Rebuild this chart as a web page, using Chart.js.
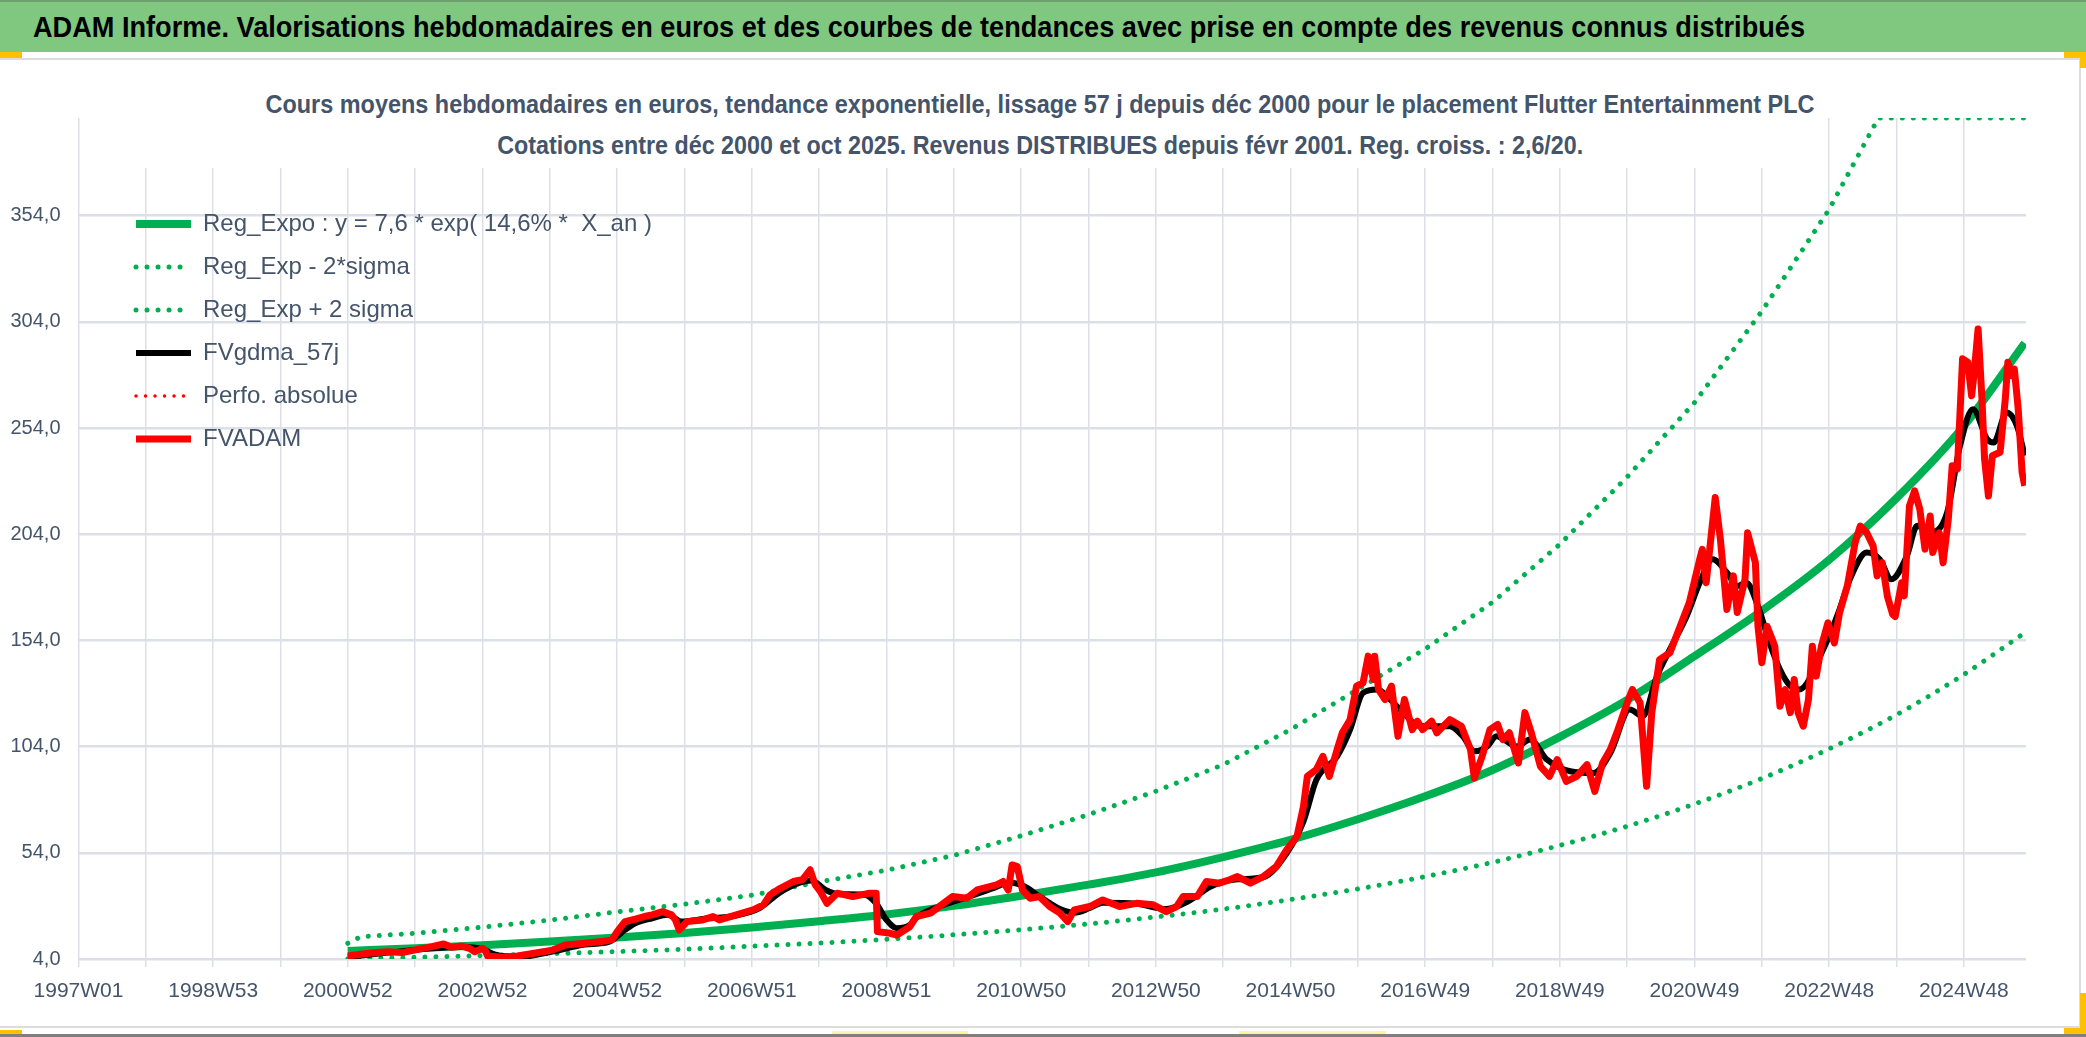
<!DOCTYPE html>
<html>
<head>
<meta charset="utf-8">
<script src="https://cdn.jsdelivr.net/npm/chart.js@4.4.1/dist/chart.umd.min.js"></script>
<style>
  html, body { margin: 0; padding: 0; background: #fff; overflow: hidden; }
  body { width: 2086px; height: 1037px; position: relative; font-family: 'Liberation Sans', Arial, sans-serif; }
  #topbar { position: absolute; left: 0; top: 0; width: 2086px; height: 52px; background: #80c880; border-top: 2px solid #6f9f6f; box-sizing: border-box; }
  #title { position: absolute; left: 33px; top: 8px; font-weight: bold; font-size: 30px; color: #000; white-space: nowrap; transform-origin: 0 0; }
  #frame { position: absolute; left: -2px; top: 58px; width: 2083px; height: 970px; border: 2px solid #dcdcdc; box-sizing: border-box; }
  #chart { position: absolute; left: 0; top: 0; }
  #subbox { position: absolute; left: 100px; top: 80px; width: 1716px; height: 88px; background: #fff; }
  .sub { position: absolute; left: 0; width: 2080px; text-align: center; color: #44546a; font-weight: bold; font-size: 26px; line-height: 30px; white-space: nowrap; }
  .sub span { display: inline-block; transform-origin: 50% 50%; }
  .mark { position: absolute; background: #ffc000; }
  .pale { position: absolute; background: #fff3a6; }
  #bottomline { position: absolute; left: 0; top: 1034px; width: 2086px; height: 3px; background: #7f7f7f; }
</style>
</head>
<body>
<div id="topbar"><span id="title" data-w="1772">ADAM Informe. Valorisations hebdomadaires en euros et des courbes de tendances avec prise en compte des revenus connus distribués</span></div>
<div id="frame"></div>
<canvas id="chart" width="2086" height="1037"></canvas>
<div id="subbox"></div>
<div class="sub" style="top:89px"><span data-w="1549">Cours moyens hebdomadaires en euros, tendance exponentielle, lissage 57 j depuis déc 2000 pour le placement Flutter Entertainment PLC</span></div>
<div class="sub" style="top:130px"><span data-w="1086">Cotations entre déc 2000 et oct 2025. Revenus DISTRIBUES depuis févr 2001. Reg. croiss. : 2,6/20.</span></div>
<div class="mark" style="left:0;top:52px;width:22px;height:6px"></div>
<div class="mark" style="left:2064px;top:52px;width:22px;height:6px"></div>
<div class="mark" style="left:2080px;top:52px;width:6px;height:16px"></div>
<div class="mark" style="left:0;top:1030px;width:22px;height:5px"></div>
<div class="mark" style="left:2080px;top:993px;width:6px;height:41px"></div>
<div class="mark" style="left:2064px;top:1028px;width:22px;height:6px"></div>
<div class="pale" style="left:832px;top:1031px;width:136px;height:3px"></div>
<div class="pale" style="left:1239px;top:1031px;width:147px;height:3px"></div>
<div id="bottomline"></div>
<script>
// axis labels
const xLabels = ['1997W01', '1998W53', '2000W52', '2002W52', '2004W52', '2006W51', '2008W51', '2010W50',
  '2012W50', '2014W50', '2016W49', '2018W49', '2020W49', '2022W48', '2024W48'];
const yTicks = [4, 54, 104, 154, 204, 254, 304, 354];
const weeksPerGrid = 52;   // one vertical grid line per 52 weekly categories
const lastWeek = 1504;     // about 2025W43, counted from 1997W01

// FVADAM (weekly index counted from 1997W01)
const redWeeks = [208, 224, 239, 250, 262, 273, 282, 288, 296, 302, 306, 312, 314, 316, 327, 339, 352, 366, 376, 391,
  404, 412, 416, 422, 430, 437, 443, 451, 458, 461, 464, 470, 482, 490, 495, 508, 521, 529, 534, 542,
  552, 559, 565, 569, 573, 578, 586, 598, 611, 616, 617, 627, 632, 642, 647, 658, 668, 675, 686, 694,
  709, 714, 718, 721, 725, 729, 735, 742, 750, 758, 764, 769, 781, 791, 804, 817, 830, 840, 848, 853,
  864, 871, 881, 889, 895, 905, 915, 925, 933, 941, 946, 949, 956, 961, 966, 972, 976, 982, 987, 992,
  996, 1000, 1001, 1004, 1009, 1014, 1019, 1024, 1030, 1034, 1038, 1045, 1049, 1059, 1068, 1075, 1078, 1084, 1090, 1096,
  1100, 1105, 1112, 1117, 1122, 1129, 1136, 1142, 1149, 1157, 1165, 1171, 1177, 1183, 1188, 1196, 1200, 1206, 1211, 1215,
  1221, 1229, 1237, 1244, 1252, 1254, 1257, 1264, 1268, 1273, 1278, 1281, 1287, 1289, 1295, 1297, 1300, 1304, 1308, 1310,
  1314, 1318, 1322, 1325, 1328, 1332, 1336, 1339, 1342, 1346, 1351, 1356, 1360, 1366, 1372, 1376, 1381, 1386, 1389, 1393,
  1397, 1401, 1403, 1408, 1410, 1414, 1418, 1422, 1426, 1430, 1432, 1437, 1440, 1444, 1447, 1451, 1455, 1459, 1462, 1464,
  1467, 1470, 1472, 1475, 1478, 1484, 1488, 1490, 1493, 1495, 1498, 1501, 1503];
const redValues = [5.4, 6.7, 7.4, 7.0, 8.5, 9.8, 11.1, 9.5, 10.1, 9.0, 7.4, 9.0, 8.2, 5.4, 4.8, 5.4, 6.7, 8.2, 10.6, 11.4,
  12.2, 13.0, 16.9, 21.6, 22.8, 24.0, 24.8, 26.3, 24.8, 22.4, 17.7, 21.6, 22.4, 24.0, 22.4, 24.8, 27.1, 29.5, 34.2, 37.3,
  40.5, 41.3, 46.0, 38.9, 35.7, 30.2, 35.0, 33.4, 35.0, 35.0, 16.9, 16.1, 15.3, 19.2, 24.0, 25.6, 30.2, 33.4, 32.6, 36.5,
  38.9, 40.5, 36.5, 48.3, 47.5, 36.5, 32.6, 33.4, 28.7, 25.6, 21.6, 27.1, 28.7, 31.8, 28.7, 30.2, 29.5, 26.3, 28.7, 33.4,
  33.4, 40.5, 39.7, 41.3, 42.8, 39.7, 42.8, 47.5, 55.4, 61.7, 75.8, 90.0, 93.2, 99.4, 90.0, 102.6, 110.5, 116.7, 132.5, 134.0,
  146.6, 135.6, 146.6, 130.9, 126.2, 132.5, 108.9, 126.2, 112.0, 116.0, 112.0, 116.0, 110.5, 116.7, 113.6, 102.6, 89.2, 99.4, 112.0, 114.4,
  107.3, 110.5, 96.3, 120.0, 110.5, 94.7, 90.0, 97.9, 87.6, 90.0, 95.5, 82.9, 96.3, 102.6, 110.5, 124.6, 130.9, 124.6, 85.3, 120.0,
  145.0, 148.2, 160.8, 171.8, 192.2, 196.9, 181.2, 221.3, 201.6, 168.6, 184.4, 167.2, 182.8, 204.7, 190.6, 160.7, 143.5, 160.7, 154.5, 151.3,
  123.0, 130.9, 120.0, 135.6, 120.0, 113.6, 126.2, 151.3, 137.2, 151.3, 162.3, 152.8, 167.0, 179.6, 200.0, 207.9, 204.7, 198.4, 184.4, 190.6,
  174.7, 166.3, 165.3, 181.2, 175.0, 217.4, 224.4, 215.8, 197.0, 212.6, 195.4, 204.7, 190.6, 211.1, 236.3, 234.7, 286.6, 285.0, 269.2, 280.2,
  300.7, 267.6, 239.4, 222.0, 241.0, 242.6, 267.6, 285.0, 278.7, 281.8, 262.9, 233.1, 226.8];

// FVgdma_57j (smoothed)
const blackWeeks = [208, 239, 273, 296, 312, 322, 341, 366, 391, 410, 422, 430, 443, 455, 466, 482, 508, 526, 542, 557,
  566, 577, 588, 607, 616, 624, 632, 642, 647, 668, 686, 709, 719, 731, 742, 758, 769, 781, 791, 817,
  840, 858, 874, 895, 915, 933, 946, 956, 972, 982, 992, 1003, 1013, 1023, 1036, 1059, 1069, 1078, 1088, 1095,
  1111, 1121, 1134, 1152, 1170, 1183, 1198, 1208, 1219, 1229, 1242, 1252, 1262, 1273, 1281, 1288, 1297, 1306, 1314, 1322,
  1329, 1335, 1345, 1353, 1360, 1368, 1381, 1391, 1400, 1412, 1420, 1430, 1443, 1453, 1463, 1474, 1479, 1489, 1497, 1503];
const blackValues = [5.0, 7.0, 9.0, 9.6, 8.6, 6.0, 5.0, 7.5, 10.8, 12.2, 17.7, 20.8, 23.2, 24.8, 21.6, 22.8, 24.5, 28.0, 35.5, 40.0,
  41.0, 36.5, 34.5, 34.3, 30.2, 22.4, 18.5, 20.0, 23.5, 29.5, 33.0, 38.0, 40.0, 38.0, 33.5, 27.5, 25.8, 28.0, 30.5, 30.0,
  27.5, 31.5, 38.0, 41.5, 42.5, 53.8, 68.8, 88.4, 99.4, 112.0, 129.3, 130.9, 126.2, 120.0, 113.6, 113.6, 108.9, 101.8, 104.1, 108.9,
  104.1, 107.3, 97.9, 92.4, 91.6, 101.0, 121.5, 118.3, 137.2, 149.8, 165.5, 181.2, 192.2, 186.0, 179.6, 181.2, 170.2, 152.8, 140.3, 132.5,
  130.9, 134.0, 146.6, 157.6, 168.6, 182.8, 195.4, 192.2, 182.8, 193.8, 208.0, 204.7, 214.1, 245.5, 262.9, 248.8, 247.2, 261.3, 255.0, 241.0];

// Reg_Expo and its bands at the yearly grid lines
const regWeeks = [208, 260, 312, 364, 416, 468, 520, 572, 624, 676, 728, 780, 832, 884, 936, 988, 1040, 1092, 1144, 1196, 1248, 1300, 1352, 1404, 1456, 1503];
const regValues = [7.8, 9.1, 10.5, 12.2, 14.1, 16.2, 18.8, 21.8, 25.0, 29.0, 33.8, 39.0, 44.8, 52.0, 60.1, 69.8, 80.6, 93.0, 108.6, 126.0, 146.6, 168.0, 192.0, 221.0, 255.0, 294.0];
const lowWeeks = [208, 260, 312, 364, 416, 468, 520, 572, 624, 676, 728, 780, 832, 884, 936, 988, 1040, 1092, 1144, 1196, 1248, 1300, 1352, 1404, 1456, 1503];
const lowValues = [4.1, 4.8, 5.6, 6.5, 7.5, 8.6, 10.0, 11.5, 13.3, 15.4, 17.8, 20.5, 23.8, 27.5, 32.0, 37.0, 42.8, 49.5, 57.5, 66.5, 77.0, 89.0, 103.0, 119.0, 138.0, 157.6];
const highWeeks = [208, 218, 260, 312, 364, 416, 468, 520, 572, 624, 676, 728, 780, 832, 884, 936, 988, 1040, 1092, 1144, 1196, 1248, 1300, 1352, 1390, 1503];
const highValues = [11.4, 14.5, 16.1, 19.0, 22.3, 26.2, 29.8, 34.0, 40.3, 45.8, 52.8, 62.0, 72.0, 83.0, 95.5, 112.0, 131.0, 150.0, 172.0, 199.3, 231.0, 266.0, 309.0, 357.0, 400.0, 400.0];

const pts = (xs, ys) => xs.map((x, i) => ({ x: x, y: ys[i] }));

const TEXT = '#44546a';
const GRID = '#dcdfe6';
const GREEN = '#00b050';

// squeeze the html titles to the width they take in the sheet
document.querySelectorAll('[data-w]').forEach(el => {
  const w = el.getBoundingClientRect().width;
  el.style.transform = 'scaleX(' + (Number(el.dataset.w) / w) + ')';
});

// put the legend inside the plot, top left, as in the Excel sheet
const legendPlace = {
  id: 'legendPlace',
  afterLayout(chart) {
    chart.legend.left = 117;
    chart.legend.top = 193;
  }
};

Chart.defaults.font.family = "'Liberation Sans', Arial, sans-serif";

new Chart(document.getElementById('chart'), {
  type: 'line',
  data: {
    datasets: [
      { label: 'Reg_Expo : y = 7,6 * exp( 14,6% *  X_an )', data: pts(regWeeks, regValues), borderColor: GREEN,
        borderWidth: 8, cubicInterpolationMode: 'monotone', order: 5 },
      { label: 'Reg_Exp - 2*sigma', data: pts(lowWeeks, lowValues), borderColor: GREEN, borderWidth: 5,
        borderDash: [0.01, 11], borderCapStyle: 'round', cubicInterpolationMode: 'monotone', order: 4 },
      { label: 'Reg_Exp + 2 sigma', data: pts(highWeeks, highValues), borderColor: GREEN, borderWidth: 5,
        borderDash: [0.01, 11], borderCapStyle: 'round', order: 3 },
      { label: 'FVgdma_57j', data: pts(blackWeeks, blackValues), borderColor: '#000000', borderWidth: 6,
        cubicInterpolationMode: 'monotone', order: 2 },
      { label: 'Perfo. absolue', data: [], borderColor: '#ff0000', borderWidth: 3.5,
        borderDash: [0.01, 9.5], borderCapStyle: 'round', order: 1 },
      { label: 'FVADAM', data: pts(redWeeks, redValues), borderColor: '#ff0000', borderWidth: 7, order: 0 }
    ]
  },
  options: {
    responsive: false,
    animation: false,
    devicePixelRatio: 1,
    layout: { padding: { left: 0, right: 60, top: 118, bottom: 0 } },
    elements: { point: { radius: 0 }, line: { tension: 0, borderJoinStyle: 'round' } },
    plugins: {
      title: { display: false },
      tooltip: { enabled: false },
      legend: {
        position: 'chartArea',
        align: 'start',
        labels: {
          usePointStyle: true,
          pointStyleWidth: 55,
          padding: 19,
          color: TEXT,
          font: { size: 24 },
          generateLabels(chart) {
            return chart.data.datasets.map((ds, i) => ({
              text: ds.label,
              fillStyle: ds.borderColor,
              strokeStyle: ds.borderColor,
              lineWidth: ds.borderWidth,
              lineDash: ds.borderDash || [],
              lineCap: ds.borderCapStyle || 'butt',
              pointStyle: 'line',
              fontColor: TEXT,
              hidden: false,
              datasetIndex: i
            }));
          }
        }
      }
    },
    scales: {
      x: {
        type: 'linear',
        min: 0,
        max: lastWeek,
        afterBuildTicks(axis) {
          const t = [];
          for (let k = 0; k * weeksPerGrid < lastWeek; k++) t.push({ value: k * weeksPerGrid });
          axis.ticks = t;
        },
        afterFit(axis) { axis.height = 78; },
        grid: { color: GRID, lineWidth: 1.5, tickLength: 8, drawTicks: true },
        border: { display: false },
        ticks: {
          autoSkip: false,
          maxRotation: 0,
          padding: 12,
          color: TEXT,
          font: { size: 21 },
          callback: (v, i) => (i % 2 === 0 ? xLabels[i / 2] : '')
        }
      },
      y: {
        min: 4,
        max: 400,
        afterBuildTicks(axis) { axis.ticks = yTicks.map(v => ({ value: v })); },
        afterFit(axis) { axis.width = 78.5; },
        grid: { color: GRID, lineWidth: 2.5, drawTicks: false },
        border: { display: false },
        ticks: {
          padding: 18,
          color: TEXT,
          font: { size: 20 },
          callback: v => v.toFixed(1).replace('.', ',')
        }
      }
    }
  },
  plugins: [legendPlace]
});
</script>
</body>
</html>
